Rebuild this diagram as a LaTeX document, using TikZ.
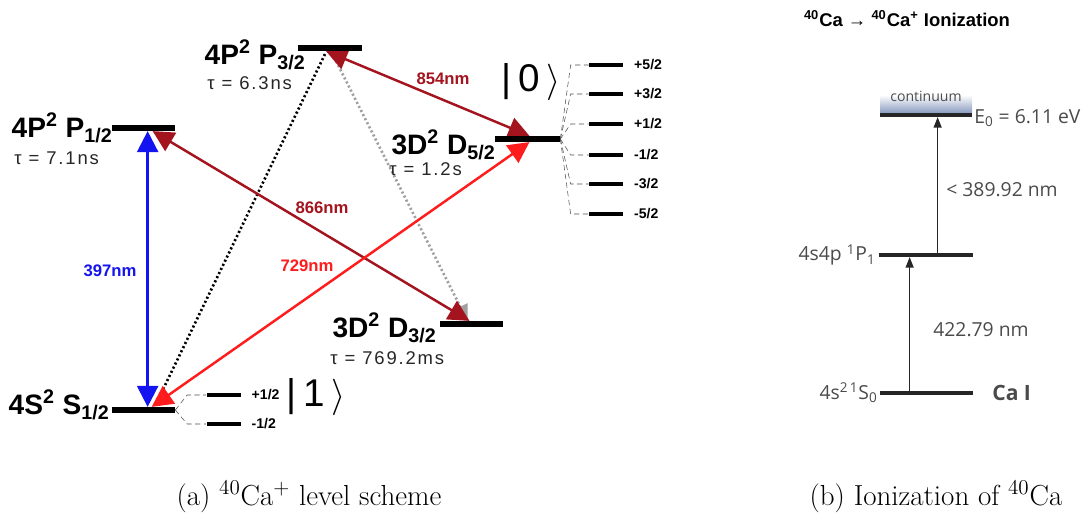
\documentclass[tikz,border=0pt]{standalone}
\usepackage{fontspec}
\usetikzlibrary{arrows.meta, positioning, calc, backgrounds}
\newfontfamily\helv{Liberation Sans}
\newfontfamily\helvtau[LetterSpace=10]{Liberation Sans}
\newfontfamily\myriad{Open Sans}
\definecolor{cBlue}{HTML}{1414F0}
\definecolor{cDarkRed}{HTML}{A3141E}
\definecolor{cRed}{HTML}{FF1C1C}
\definecolor{cDot}{HTML}{A0A0A0}
\definecolor{cText}{HTML}{4A4A4A}
\definecolor{cCont}{HTML}{8A9BBF}
\newlength\px \setlength\px{0.02cm}
\newcommand\term[3]{#1\textsuperscript{2} #2\textsubscript{#3}}
\tikzset{
  lvl/.style={fill=black, inner sep=0pt, minimum width={#1*\px}, minimum height={5.5*\px}},
  sublvl/.style={fill=black, inner sep=0pt, minimum width={34*\px}, minimum height={3.2*\px}},
  lvlb/.style={fill=black!85, inner sep=0pt, minimum width={#1*\px}, minimum height={3.5*\px}},
  lvname/.style={font=\helv\bfseries\fontsize{16}{16}\selectfont, inner sep=0pt, anchor=base east},
  tau/.style={font=\helvtau\fontsize{10.5}{10.5}\selectfont, text=black!85, inner sep=0pt, anchor=base west},
  mlabel/.style={font=\helv\bfseries\fontsize{8}{8}\selectfont, inner sep=0pt},
  ket/.style={font=\helv\fontsize{22}{22}\selectfont, inner sep=0pt},
  wl/.style={font=\helv\bfseries\fontsize{9.5}{9.5}\selectfont, inner sep=0pt, text=#1},
  laser/.style={{Triangle[length=12pt,width=12pt]}-{Triangle[length=12pt,width=12pt]}, line width=1.4pt, color=#1},
  decay/.style={line width=1.5pt, dash pattern=on 1.2pt off 1.4pt, color=#1},
  zeeman/.style={densely dashed, line width=0.3pt, color=black!70},
  up/.style={-{Triangle[length=6pt,width=4.5pt]}, line width=0.9pt, color=black!85},
  rlab/.style={font=\myriad\fontsize{11}{11}\selectfont, text=cText, inner sep=0pt},
  caption/.style={font=\fontsize{16.5}{19}\selectfont, inner sep=0pt},
}
\begin{document}
\begin{tikzpicture}[x=0.02cm, y=-0.02cm]
  \useasboundingbox (0,0) rectangle (1090,520);

  % 40Ca+ levels
  \node[lvl=63] (S12) at (143.5,410) {};
  \node[lvl=63] (P12) at (143.5,128) {};
  \node[lvl=64] (P32) at (330,48) {};
  \node[lvl=65] (D52) at (527.5,139) {};
  \node[lvl=63] (D32) at (471.5,324) {};

  \node[lvname] (S12t) at (110,415) {\term{4S}{S}{1/2}};
  \node[lvname] (P12t) at (113,138) {\term{4P}{P}{1/2}};
  \node[lvname] (P32t) at (306,65) {\term{4P}{P}{3/2}};
  \node[lvname] (D52t) at (496,155) {\term{3D}{D}{5/2}};
  \node[lvname] (D32t) at (437,338) {\term{3D}{D}{3/2}};

  \node[tau] (P12tau) at (14,165) {τ = 7.1ns};
  \node[tau] (P32tau) at (207,90) {τ = 6.3ns};
  \node[tau] (D52tau) at (389,176) {τ = 1.2s};
  \node[tau] (D32tau) at (330,365) {τ = 769.2ms};

  % Zeeman sublevels
  \foreach \i/\y/\m in {1/65/{+5/2}, 2/94/{+3/2}, 3/124/{+1/2}, 4/155/{-1/2}, 5/184/{-3/2}, 6/214/{-5/2}} {
    \node[sublvl] (d\i) at (606,\y) {};
    \node[mlabel, right=6pt of d\i] (dl\i) {\m};
    \draw[zeeman] (D52.east) -- ($(d\i.west)+(-18,0)$) -- (d\i.west);
  }
  \foreach \i/\y/\m in {1/395/{+1/2}, 2/424/{-1/2}} {
    \node[sublvl] (s\i) at (223.5,\y) {};
    \node[mlabel, right=6pt of s\i] (sl\i) {\m};
    \draw[zeeman] (S12.east) -- ($(s\i.west)+(-19,0)$) -- (s\i.west);
  }

  \node[ket] (ket0) at (531,82) {|\,0\,$\big\rangle$};
  \node[ket] (ket1) at (316,397) {|\,1\,$\big\rangle$};

  % transitions
  \begin{scope}[on background layer]
    \draw[decay=black] ($(P32.south)+(-5,3)$) -- ($(S12.north)+(14,-6)$);
    \draw[decay=cDot, -{Triangle[length=9pt,width=9pt]}] ($(P32.south)+(4,6)$) -- ($(D32.north)+(-4,0)$);
    \draw[laser=cBlue] ($(S12.north west)+(36,0)$) -- ($(P12.south west)+(36,0)$);
    \draw[laser=cDarkRed] ($(P12.south west)+(41,0)$) -- ($(D32.north)+(-2,0)$);
    \draw[laser=cRed] ($(S12.north west)+(40,0)$) -- ($(D52.south)+(2,0)$);
    \draw[laser=cDarkRed] ($(P32.south)+(-4,0)$) -- ($(D52.north)+(2,0)$);
  \end{scope}

  \node[wl=cBlue] (l397) at (110,271) {397nm};
  \node[wl=cDarkRed] (l866) at (322,208) {866nm};
  \node[wl=cRed] (l729) at (307,266) {729nm};
  \node[wl=cDarkRed] (l854) at (443,79) {854nm};

  % ionization of neutral Ca
  \node[font=\helv\bfseries\fontsize{10.5}{10.5}\selectfont, inner sep=0pt] (ttl) at (907,19)
    {\textsuperscript{40}Ca → \textsuperscript{40}Ca\textsuperscript{+} Ionization};
  \node[inner sep=0pt, minimum width={92*\px}, minimum height={18*\px}, top color=white, bottom color=cCont] (cont) at (926,104) {};
  \node[font=\myriad\fontsize{8}{8}\selectfont, text=black!70, inner sep=0pt] (contt) at (926,96) {continuum};
  \node[lvlb=92] (ion) at (926,115) {};
  \node[lvlb=94] (P1) at (926,255) {};
  \node[lvlb=93] (S0) at (926.5,393) {};

  \node[rlab, anchor=west] (E0) at (974,118) {E\textsubscript{0} = 6.11 eV};
  \node[rlab, anchor=east] (P1t) at (876,255) {4s4p \textsuperscript{1}P\textsubscript{1}};
  \node[rlab, anchor=east] (S0t) at (878,393) {4s\textsuperscript{2\,1}S\textsubscript{0}};
  \node[rlab, font=\myriad\bfseries\fontsize{12}{12}\selectfont, anchor=west] (CaI) at (992,393) {Ca I};

  \draw[up] ($(P1.north west)+(59,0)$) -- ($(ion.south west)+(58,0)$);
  \draw[up] ($(S0.north west)+(30,0)$) -- ($(P1.south west)+(31,0)$);
  \node[rlab, anchor=west] (l389) at (946,190) {< 389.92 nm};
  \node[rlab, anchor=west] (l422) at (933,330) {422.79 nm};

  % captions
  \node[caption] (capa) at (309,497) {(a) $^{40}$Ca$^{+}$ level scheme};
  \node[caption] (capb) at (936,497) {(b) Ionization of $^{40}$Ca};
\end{tikzpicture}
\end{document}
